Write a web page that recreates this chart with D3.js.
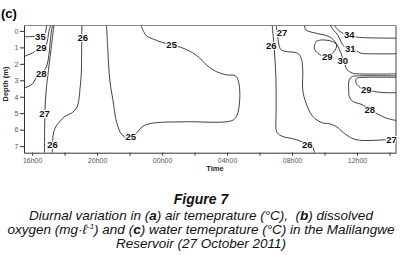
<!DOCTYPE html>
<html>
<head>
<meta charset="utf-8">
<script src="https://cdn.jsdelivr.net/npm/d3@7"></script>
<style>
  body { margin: 0; background: #fff; }
  svg { display: block; font-family: "Liberation Sans", Arial, sans-serif; }
  .isoline { fill: none; stroke: #111; stroke-width: 0.8; }
  .iso-label { font-size: 9.5px; font-weight: bold; fill: #111; stroke: #fff; stroke-width: 2.2px; paint-order: stroke; text-anchor: middle; dominant-baseline: central; }
  .axis path, .axis line { stroke: #333; }
  .axis text { fill: #555; font-size: 7px; }
  .axis-title { font-size: 7.5px; font-weight: bold; fill: #222; text-anchor: middle; }
  .caption { font-size: 13.5px; font-style: italic; fill: #111; text-anchor: middle; white-space: pre; }
</style>
</head>
<body>
<svg id="chart" width="403" height="255"></svg>
<script>
// hours counted from midnight of 26 Oct (24 = 00h00 on the 27th), depth in metres
const hourTicks = [16, 18, 20, 22, 24, 26, 28, 30, 32, 34, 36, 38];
const hourNames = ["16h00", "", "20h00", "", "00h00", "", "04h00", "", "08h00", "", "12h00", ""];
const depthTicks = [0, 1, 2, 3, 4, 5, 6, 7];

// isotherms, [hour, depth]
const iso35a = [[15.5,0.35],[15.87,0.35],[16.18,0.33],[16.5,0.31],[16.79,0.24],[16.85,-0.06],[16.89,-0.33]];
const iso29a = [[15.5,1.56],[15.76,1.45],[16.07,1.32],[16.28,1.15],[16.56,1.0],[16.85,0.85],[17.05,-0.06],[17.15,-0.33]];
const iso28a = [[15.5,3.47],[15.76,3.38],[16.07,3.17],[16.28,2.77],[16.56,2.5],[16.85,2.26],[17.2,-0.06],[17.27,-0.33]];
const iso27a = [[17.34,-0.33],[17.16,1.15],[16.97,2.67],[16.88,3.45],[16.82,4.18],[16.79,4.97],[16.77,6.0],[16.76,7.4]];
const iso26a = [[19.06,-0.33],[19.05,1.0],[19.03,2.5],[19.0,2.97],[18.94,3.58],[18.88,4.18],[18.74,4.68],[18.43,4.99],
  [18.02,5.19],[17.71,5.5],[17.47,5.8],[17.34,6.1],[17.3,6.3],[17.26,6.8],[17.24,7.4]];
const iso25 = [[20.58,-0.33],[20.66,1.15],[20.78,2.97],[20.97,4.18],[21.21,5.58],[21.52,6.3],[21.83,6.48],[22.07,6.42],
  [22.42,6.2],[22.81,5.8],[23.24,5.64],[23.85,5.56],[25.49,5.52],[28.3,5.45],[28.6,5.15],[28.78,4.18],[28.72,3.15],
  [28.52,2.73],[27.95,2.67],[27.34,2.47],[26.72,2.06],[26.31,1.64],[25.88,1.33],[25.08,0.97],[24.59,0.85],[24.04,0.71],
  [23.42,0.48],[23.04,0.3],[22.87,0.04],[22.73,-0.26],[22.69,-0.33]];
const iso26b = [[30.78,-0.33],[30.86,0.55],[30.95,1.76],[31.01,2.97],[31.02,4.79],[31.02,6.0],[31.1,6.21],[31.41,6.41],
  [32.25,6.6],[32.94,6.88],[33.25,7.01],[33.38,7.4]];
const iso27b = [[31.02,-0.33],[31.1,0.24],[31.22,0.95],[31.33,1.15],[31.64,1.25],[32.33,1.35],[32.56,1.65],[32.66,2.36],
  [32.66,3.58],[32.86,4.38],[33.27,5.19],[33.88,5.59],[34.3,5.64],[34.71,5.8],[35.32,6.3],[35.94,6.61],[37.98,6.61],[38.4,6.61]];
const iso30b = [[32.76,-0.33],[32.86,-0.06],[33.48,0.14],[34.3,0.35],[34.71,0.75],[35.01,1.35],[35.22,1.96],[35.4,2.36],
  [35.71,2.56],[36.14,2.61],[38.4,2.61]];
const iso31b = [[34.36,-0.33],[34.54,-0.06],[34.81,0.24],[35.01,0.65],[35.22,0.95],[35.59,1.05],[35.94,1.19],[36.24,1.35],
  [37.06,1.39],[38.4,1.39]];
const iso34b = [[34.6,-0.33],[34.91,0.0],[35.22,0.18],[35.52,0.25],[35.89,0.36],[36.45,0.41],[38.4,0.44]];
const iso28b = [[38.4,2.73],[36.14,2.73],[35.71,2.77],[35.52,2.97],[35.49,3.58],[35.52,3.98],[35.73,4.28],[36.32,4.48],
  [36.78,4.76],[37.16,4.99],[37.78,5.29],[38.4,5.44]];
const iso29b = [[38.4,2.82],[36.26,2.83],[35.98,2.88],[35.92,3.09],[36.01,3.27],[36.24,3.47],[36.57,3.55],[37.06,3.68],
  [37.55,3.74],[38.4,3.76]];
const iso29loop = [[33.48,0.65],[33.79,0.55],[34.5,0.65],[34.74,0.85],[34.66,1.15],[34.4,1.45],[34.05,1.58],[33.58,1.35],
  [33.37,1.05],[33.43,0.75]];

const isoLabels = ["35", "29", "28", "27", "26", "26", "25", "25", "26", "27", "29", "30", "31", "34", "29", "28", "27", "26"];
const isoLabelHours = [16.51, 16.56, 16.57, 16.77, 17.25, 19.12, 24.59, 22.07, 30.72, 31.38, 34.17, 35.13, 35.59, 35.52, 36.57, 36.78, 38.13, 32.94];
const isoLabelDepths = [0.33, 1.03, 2.61, 5.0, 6.88, 0.39, 0.85, 6.42, 0.88, 0.09, 1.55, 1.82, 1.05, 0.21, 3.55, 4.76, 6.61, 6.88];

class isothermChart {
  constructor(_config) {
    this.config = {
      parentElement: _config.parentElement,
      containerWidth: _config.containerWidth,
      containerHeight: _config.containerHeight,
    }
    this.config.margin = _config.margin || { top: 25.5, bottom: 102.3, right: 7, left: 24 };
    this.lines = _config.lines;
    this.loops = _config.loops;
    this.initVis();
  }

  initVis() {
    let vis = this;
    const m = vis.config.margin;
    vis.width = vis.config.containerWidth - m.left - m.right;
    vis.height = vis.config.containerHeight - m.top - m.bottom;
    vis.svg = d3.select(vis.config.parentElement);

    vis.xScale = d3.scaleLinear().domain([15.5, 38.4]).range([0, vis.width]);
    vis.yScale = d3.scaleLinear().domain([-0.33, 7.4]).range([0, vis.height]);

    vis.g = vis.svg.append('g').attr('transform', `translate(${m.left},${m.top})`);

    vis.svg.append('defs').append('clipPath').attr('id', 'plot-clip')
      .append('rect').attr('width', vis.width).attr('height', vis.height);

    // frame: top and right edges
    vis.g.append('line').attr('x1', 0).attr('x2', vis.width).attr('y1', 0).attr('y2', 0)
      .attr('stroke', '#888').attr('stroke-width', 1);
    vis.g.append('line').attr('x1', vis.width).attr('x2', vis.width).attr('y1', 0).attr('y2', vis.height)
      .attr('stroke', '#444').attr('stroke-width', 1);

    vis.g.append('g').attr('class', 'axis y-axis')
      .call(d3.axisLeft(vis.yScale).tickValues(depthTicks).tickSize(4).tickPadding(1.5).tickSizeOuter(0));

    vis.g.append('g').attr('class', 'axis x-axis')
      .attr('transform', `translate(0,${vis.height})`)
      .call(d3.axisBottom(vis.xScale).tickValues(hourTicks).tickSize(3).tickPadding(2.5).tickSizeOuter(0)
        .tickFormat((d, i) => hourNames[i]));

    // axis titles sit a bit left of the 04h00 tick, as in the original
    vis.g.append('text').attr('class', 'axis-title')
      .attr('x', vis.xScale(27.26)).attr('y', vis.height + 18.5).text('Time');
    vis.svg.append('text').attr('class', 'axis-title')
      .attr('transform', `translate(7.5,84) rotate(-90)`).text('Depth (m)');

    vis.svg.append('text').attr('x', 1).attr('y', 18)
      .style('font-size', '13px').style('font-weight', 'bold').text('(c)');
  }

  render() {
    let vis = this;
    const plot = vis.g.append('g').attr('clip-path', 'url(#plot-clip)');

    const line = d3.line()
      .x(d => vis.xScale(d[0]))
      .y(d => vis.yScale(d[1]))
      .curve(d3.curveCatmullRom.alpha(0.5));
    const loop = d3.line()
      .x(d => vis.xScale(d[0]))
      .y(d => vis.yScale(d[1]))
      .curve(d3.curveCatmullRomClosed.alpha(0.5));

    plot.selectAll('path.open')
      .data(vis.lines)
      .enter().append('path')
      .attr('class', 'isoline open')
      .attr('d', line);

    plot.selectAll('path.closed')
      .data(vis.loops)
      .enter().append('path')
      .attr('class', 'isoline closed')
      .attr('d', loop);

    vis.g.selectAll('text.iso-label')
      .data(isoLabels)
      .enter().append('text')
      .attr('class', 'iso-label')
      .attr('x', (d, i) => vis.xScale(isoLabelHours[i]))
      .attr('y', (d, i) => vis.yScale(isoLabelDepths[i]))
      .text(d => d);
  }
}

const chart = new isothermChart({
  parentElement: '#chart',
  containerWidth: 403,
  containerHeight: 255,
  lines: [iso35a, iso29a, iso28a, iso27a, iso26a, iso25, iso26b, iso27b, iso30b, iso31b, iso34b, iso28b, iso29b],
  loops: [iso29loop],
});
chart.render();

// caption under the panel
const captionLines = [
  [["Diurnal variation in (", false], ["a", true], [") air temeprature (°C),  (", false], ["b", true], [") dissolved", false]],
  [["oxygen (mg·ℓ", false], ["-1", false, true], [") and (", false], ["c", true], [") water temeprature (°C) in the Malilangwe", false]],
  [["Reservoir (27 October 2011)", false]],
];
const svg = d3.select('#chart');
svg.append('text').attr('class', 'caption').attr('x', 201).attr('y', 204)
  .style('font-weight', 'bold').style('font-size', '14px').text('Figure 7');
captionLines.forEach((parts, i) => {
  const t = svg.append('text').attr('class', 'caption').attr('x', 201).attr('y', 220 + i * 13.8);
  parts.forEach(p => {
    const span = t.append('tspan').text(p[0]);
    if (p[1]) span.style('font-weight', 'bold');
    if (p[2]) span.style('font-size', '8px').attr('dy', -5);
  });
  // bring baseline back after a superscript
  t.selectAll('tspan').each(function(d, j, nodes) {
    if (j > 0 && parts[j - 1][2]) d3.select(this).attr('dy', 5);
  });
});
</script>
</body>
</html>
